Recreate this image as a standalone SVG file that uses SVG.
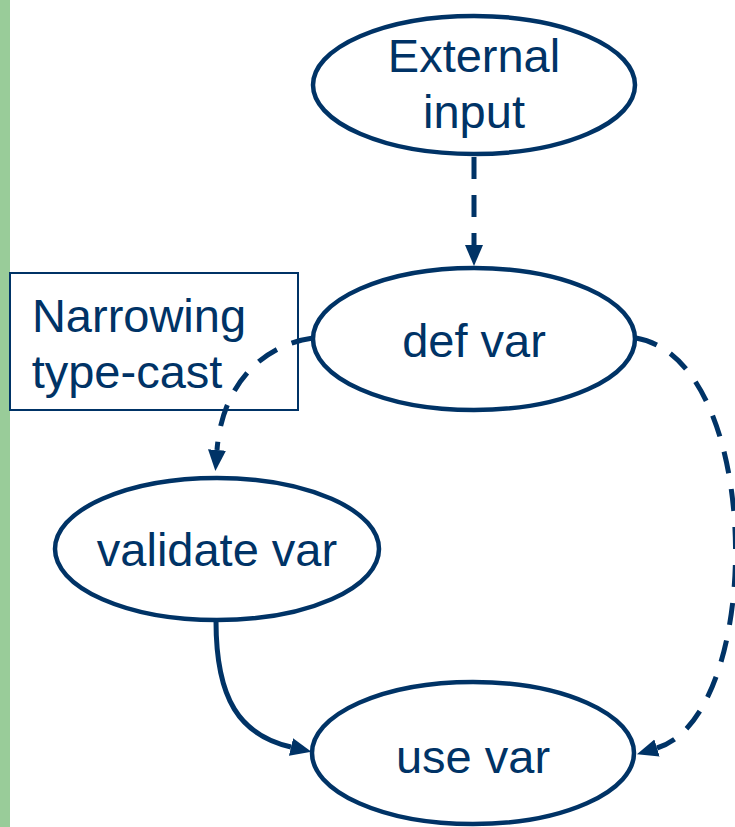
<svg xmlns="http://www.w3.org/2000/svg" width="735" height="827" viewBox="0 0 735 827">
<style>
.node ellipse{fill:#fff;stroke:#003366;stroke-width:4.5}
.lbl{font-family:"Liberation Sans",Arial,sans-serif;font-size:47px;fill:#003366;text-anchor:middle}
.conn{fill:none;stroke:#003366;stroke-width:5}
.dash{stroke-dasharray:22 16}
</style>
<defs>
<marker id="arr" markerUnits="userSpaceOnUse" markerWidth="22" markerHeight="20" refX="0" refY="9" orient="auto" viewBox="0 0 22 18">
<path d="M0,0 L21,9 L0,18 Z" fill="#003366"/>
</marker>
</defs>
<rect x="0" y="0" width="10" height="827" fill="#99CC99"/>
<g id="connectors">
<path class="conn dash" d="M474,157 L474,245" marker-end="url(#arr)"/>
<path class="conn dash" d="M313,338 C262,345 222,385 217,450" marker-end="url(#arr)"/>
<path class="conn dash" d="M636,338 C765,360 765,715 657,748" marker-end="url(#arr)"/>
<path class="conn" d="M216,621 C216,700 240,735 291,747" marker-end="url(#arr)"/>
</g>
<g id="narrowing">
<rect x="10" y="273" width="288" height="137" fill="none" stroke="#003366" stroke-width="2"/>
<text class="lbl" x="139" y="332">Narrowing</text>
<text class="lbl" x="127" y="388">type-cast</text>
</g>
<g id="external" class="node">
<ellipse cx="474" cy="85" rx="161" ry="69"/>
<text class="lbl" x="474" y="72">External</text>
<text class="lbl" x="474" y="128">input</text>
</g>
<g id="defvar" class="node">
<ellipse cx="474" cy="339" rx="161" ry="71"/>
<text class="lbl" x="474" y="357">def var</text>
</g>
<g id="validatevar" class="node">
<ellipse cx="217" cy="549" rx="162" ry="71"/>
<text class="lbl" x="217" y="566">validate var</text>
</g>
<g id="usevar" class="node">
<ellipse cx="473" cy="753" rx="161" ry="71"/>
<text class="lbl" x="473" y="773">use var</text>
</g>
</svg>
